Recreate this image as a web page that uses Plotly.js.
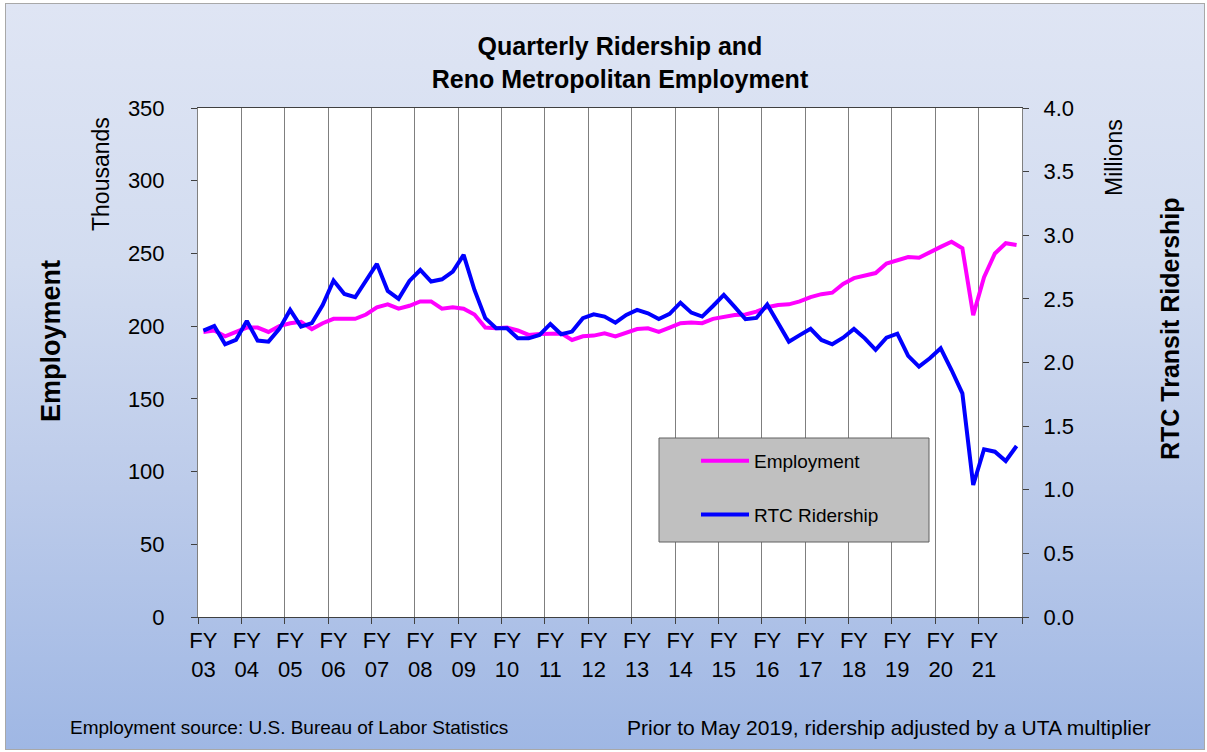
<!DOCTYPE html>
<html>
<head>
<meta charset="utf-8">
<script src="https://cdn.plot.ly/plotly-3.0.1.min.js"></script>
<style>
html,body{margin:0;padding:0;background:#ffffff;}
#frame{position:absolute;left:5px;top:3px;width:1200px;height:747px;box-sizing:border-box;border:1px solid #a8a8a8;
  background:linear-gradient(to bottom,#dfe5f4 0%,#d2dcf0 35%,#bccbea 65%,#9fb7e4 100%);}
#chart{position:absolute;left:0;top:0;width:1207px;height:752px;}
</style>
</head>
<body>
<div id="frame"></div>
<div id="chart"></div>
<script>
// Fiscal-year tick labels (one label per 4 quarters)
const fyLabels = ['03','04','05','06','07','08','09','10','11','12','13','14','15','16','17','18','19','20','21'];

// Reno metropolitan employment, thousands (quarterly, FY03 Q1 .. FY21 Q4)
const employment = [
  196, 197, 193, 196, 199, 199, 196, 200, 202, 203, 198, 202, 205, 205, 205, 208,
  213, 215, 212, 214, 217, 217, 212, 213, 212, 208, 199, 198.5, 199, 197, 194, 194.6,
  195, 195, 190.5, 193, 193.5, 195, 193, 195.5, 198, 198.5, 196, 199, 202, 202.5, 202, 205,
  206.5, 207.6, 208, 210, 213, 214.5, 215, 217, 220, 222, 223, 229, 233, 235, 236.5, 243,
  245.5, 247.5, 247, 251, 254.5, 258, 253.5, 207.6, 233.6, 250, 257, 255.8
];

// RTC ridership, millions (quarterly)
const ridership = [
  2.250, 2.287, 2.143, 2.177, 2.327, 2.172, 2.164, 2.264, 2.413, 2.282, 2.309, 2.452, 2.644, 2.539, 2.513, 2.649,
  2.775, 2.562, 2.500, 2.641, 2.727, 2.636, 2.654, 2.714, 2.846, 2.570, 2.348, 2.269, 2.269, 2.190, 2.190, 2.217,
  2.303, 2.222, 2.243, 2.348, 2.379, 2.361, 2.313, 2.374, 2.413, 2.387, 2.342, 2.382, 2.470, 2.392, 2.361, 2.444,
  2.531, 2.437, 2.340, 2.350, 2.455, 2.310, 2.164, 2.215, 2.265, 2.177, 2.143, 2.195, 2.264, 2.190, 2.099, 2.195,
  2.226, 2.052, 1.967, 2.033, 2.112, 1.941, 1.758, 1.037, 1.318, 1.299, 1.226, 1.344
];

const quarterIdx = employment.map((_, i) => i);
const fyTickPos = fyLabels.map((_, i) => i * 4);
const fyTickText = fyLabels.map(s => 'FY<br>' + s);

const FONT = 'Liberation Sans, Arial, Helvetica, sans-serif';

const traces = [
  {x: quarterIdx, y: employment, name: 'Employment', type: 'scatter', mode: 'lines',
   line: {color: '#ff00ff', width: 4}, yaxis: 'y', legendgroup: 'emp', hoverinfo: 'skip'},
  {x: quarterIdx, y: ridership, name: 'RTC Ridership', type: 'scatter', mode: 'lines',
   line: {color: '#0000ff', width: 4}, yaxis: 'y2', legendgroup: 'rid', hoverinfo: 'skip'}
];

const W = 1207, H = 752, L = 198, R = 185, T = 108, B = 135;
const pw = W - L - R, ph = H - T - B;
const px = v => (v - L) / pw;
const py = v => (H - B - v) / ph;

const layout = {
  width: W, height: H,
  margin: {l: L, r: R, t: T, b: B, pad: 0},
  paper_bgcolor: 'rgba(0,0,0,0)',
  plot_bgcolor: '#ffffff',
  font: {family: FONT, color: '#000000', size: 22},
  title: {
    text: 'Quarterly Ridership and<br>Reno Metropolitan Employment',
    font: {family: FONT, size: 25, weight: 'bold', color: '#000'},
    xref: 'container', yref: 'container', x: 620 / W, xanchor: 'center',
    y: 1 - 55 / H, yanchor: 'middle'
  },
  showlegend: true,
  legend: {
    x: px(696), xanchor: 'left', y: py(442), yanchor: 'top',
    bgcolor: 'rgba(0,0,0,0)', borderwidth: 0,
    font: {family: FONT, size: 19, color: '#000'},
    traceorder: 'grouped', tracegroupgap: 26, itemwidth: 48
  },
  shapes: [
    {type: 'rect', xref: 'paper', yref: 'paper', x0: px(659), x1: px(929), y0: py(542), y1: py(438),
     fillcolor: '#c0c0c0', line: {color: '#606060', width: 1}, layer: 'above'}
  ],
  xaxis: {
    range: [-0.5, 75.5], tickmode: 'array', tickvals: fyTickPos, ticktext: fyTickText,
    ticks: '', showgrid: false, zeroline: false, tickangle: 0,
    showline: true, linecolor: '#404040', linewidth: 1, mirror: true,
    ticklabelstandoff: 4,
    tickfont: {family: FONT, size: 22},
    minor: {tickmode: 'linear', tick0: -0.5, dtick: 4, ticks: 'outside', ticklen: 6,
            tickcolor: '#404040', showgrid: true, gridcolor: '#7f7f7f', gridwidth: 1},
    fixedrange: true
  },
  yaxis: {
    range: [0, 350], tickmode: 'linear', tick0: 0, dtick: 50,
    ticks: 'outside', ticklen: 6, tickcolor: '#404040',
    showgrid: false, zeroline: false, showline: true, linecolor: '#808080', mirror: true,
    ticklabelstandoff: 22, tickfont: {family: FONT, size: 22}, fixedrange: true
  },
  yaxis2: {
    overlaying: 'y', side: 'right', range: [0, 4], tickmode: 'linear', tick0: 0, dtick: 0.5,
    tickformat: '.1f', ticks: 'outside', ticklen: 6, tickcolor: '#404040',
    showgrid: false, zeroline: false, showline: true, linecolor: '#808080',
    ticklabelstandoff: 10, tickfont: {family: FONT, size: 22}, fixedrange: true
  },
  annotations: [
    {text: 'Employment', xref: 'paper', yref: 'paper', x: px(51), y: py(341), textangle: -90,
     showarrow: false, xanchor: 'center', yanchor: 'middle', font: {family: FONT, size: 27, weight: 'bold'}},
    {text: 'Thousands', xref: 'paper', yref: 'paper', x: px(101), y: py(174), textangle: -90,
     showarrow: false, xanchor: 'center', yanchor: 'middle', font: {family: FONT, size: 23}},
    {text: 'Millions', xref: 'paper', yref: 'paper', x: px(1114), y: py(158), textangle: -90,
     showarrow: false, xanchor: 'center', yanchor: 'middle', font: {family: FONT, size: 23}},
    {text: 'RTC Transit Ridership', xref: 'paper', yref: 'paper', x: px(1170), y: py(329), textangle: -90,
     showarrow: false, xanchor: 'center', yanchor: 'middle', font: {family: FONT, size: 25, weight: 'bold'}},
    {text: 'Employment source: U.S. Bureau of Labor Statistics', xref: 'paper', yref: 'paper',
     x: px(68), y: py(727), xanchor: 'left', yanchor: 'middle', showarrow: false,
     font: {family: FONT, size: 19}},
    {text: 'Prior to May 2019, ridership adjusted by a UTA multiplier', xref: 'paper', yref: 'paper',
     x: px(1153), y: py(727), xanchor: 'right', yanchor: 'middle', showarrow: false,
     font: {family: FONT, size: 21}}
  ]
};

Plotly.newPlot('chart', traces, layout, {displayModeBar: false, staticPlot: true});
</script>
</body>
</html>
